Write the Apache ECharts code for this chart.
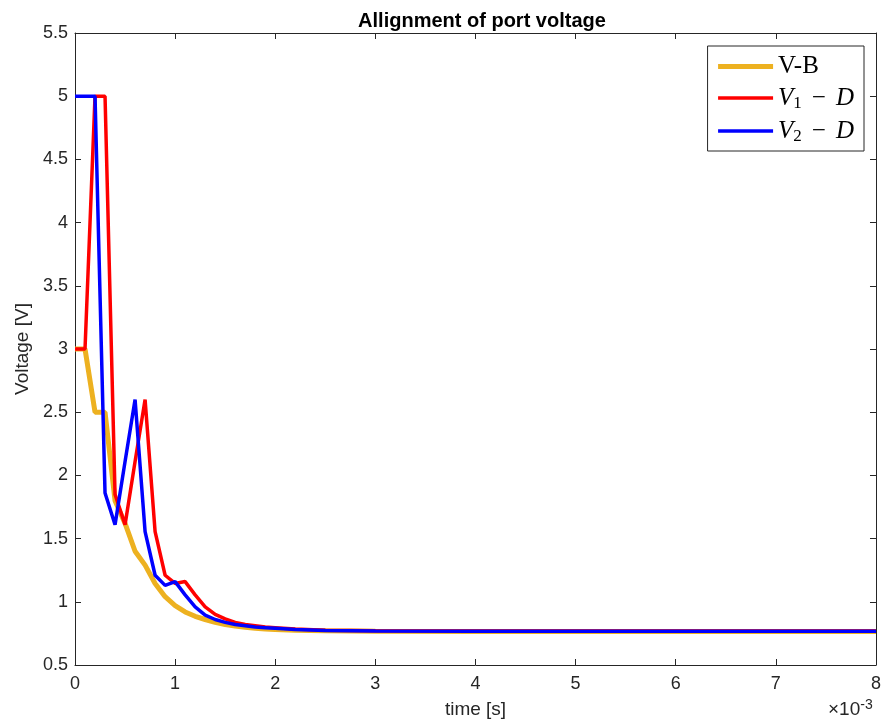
<!DOCTYPE html>
<html>
<head>
<meta charset="utf-8">
<script src="https://cdn.jsdelivr.net/npm/echarts@6/dist/echarts.min.js"></script>
<style>html,body{margin:0;padding:0;background:#fff}#c{width:884px;height:724px}</style>
</head>
<body>
<div id="c"></div>
<script>
// time in units of 1e-3 s
const tVB = [0,0.1,0.2,0.3,0.4,0.5,0.6,0.7,0.8,0.9,1.0,1.1,1.2,1.3,1.4,1.5,1.6,1.7,1.8,1.9,2.0,2.2,2.5,3,4,5,6,7,8];
const vVB = [3,3,2.5,2.5,1.8,1.62,1.4,1.29,1.145,1.04,0.97,0.92,0.885,0.86,0.837,0.82,0.808,0.798,0.79,0.785,0.78,0.775,0.77,0.767,0.766,0.766,0.766,0.766,0.766];

const tV1 = [0,0.1,0.2,0.3,0.4,0.5,0.6,0.7,0.8,0.9,1.0,1.1,1.2,1.3,1.4,1.5,1.6,1.7,1.8,1.9,2.0,2.2,2.5,3,4,5,6,7,8];
const vV1 = [3,3,5,5,1.85,1.61,2.11,2.6,1.555,1.21,1.145,1.16,1.055,0.96,0.9,0.865,0.837,0.82,0.81,0.8,0.795,0.785,0.775,0.77,0.768,0.768,0.768,0.768,0.768];

const tV2 = [0,0.1,0.2,0.3,0.4,0.5,0.6,0.7,0.8,0.9,1.0,1.1,1.2,1.3,1.4,1.5,1.6,1.7,1.8,1.9,2.0,2.2,2.5,3,4,5,6,7,8];
const vV2 = [5,5,5,1.86,1.61,2.11,2.6,1.555,1.21,1.13,1.16,1.055,0.96,0.895,0.86,0.837,0.82,0.81,0.8,0.795,0.79,0.78,0.772,0.768,0.767,0.767,0.767,0.767,0.767];

const seriesNames = ['V-B','V1-D','V2-D'];
const xTicks = {min:0, max:8, interval:1};
const yTicks = {min:0.5, max:5.5, interval:0.5};

const zip = (t,v) => t.map((x,i)=>[x,v[i]]);
const axisColor = '#262626';
const sans = '"Liberation Sans", Arial, Helvetica, sans-serif';
const serif = '"Liberation Serif", "DejaVu Serif", serif';
const colors = ['#EDB120','#FF0000','#0000FF'];
const widths = [5,3.5,3.5];

const chart = echarts.init(document.getElementById('c'), null, {renderer:'canvas'});
const baseX = {
  type:'value', min:xTicks.min, max:xTicks.max, interval:xTicks.interval,
  axisLine:{show:true, onZero:false, lineStyle:{color:axisColor, width:1}},
  axisTick:{show:true, inside:true, length:6, lineStyle:{color:axisColor}},
  splitLine:{show:false}
};
const baseY = {
  type:'value', min:yTicks.min, max:yTicks.max, interval:yTicks.interval,
  axisLine:{show:true, onZero:false, lineStyle:{color:axisColor, width:1}},
  axisTick:{show:true, inside:true, length:6, lineStyle:{color:axisColor}},
  splitLine:{show:false}
};
chart.setOption({
  animation:false,
  backgroundColor:'#fff',
  title:{text:'Allignment of port voltage', left:477, textAlign:'center', top:6,
    textStyle:{fontFamily:sans, fontWeight:'bold', fontSize:20, color:'#000'}},
  grid:{left:75, right:6, top:33, bottom:57, containLabel:false},
  xAxis:[
    Object.assign({}, baseX, {position:'bottom',
      axisLabel:{show:true, margin:10, fontFamily:sans, fontSize:18, color:axisColor},
      name:'time [s]', nameLocation:'middle', nameGap:35,
      nameTextStyle:{fontFamily:sans, fontSize:19, color:axisColor}}),
    Object.assign({}, baseX, {position:'top', axisLabel:{show:false}})
  ],
  yAxis:[
    Object.assign({}, baseY, {position:'left',
      axisLabel:{show:true, margin:7, fontFamily:sans, fontSize:18, color:axisColor},
      name:'Voltage [V]', nameLocation:'middle', nameGap:40,
      nameTextStyle:{fontFamily:sans, fontSize:19, color:axisColor}}),
    Object.assign({}, baseY, {position:'right', axisLabel:{show:false}})
  ],
  legend:{
    orient:'vertical', right:20, top:46,
    backgroundColor:'#fff', borderColor:axisColor, borderWidth:1, borderRadius:0,
    padding:[8,10,6,8], itemGap:6, itemWidth:55, itemHeight:14,
    itemStyle:{opacity:0},
    data:seriesNames.map((n,i)=>({name:n, lineStyle:{color:colors[i], width:widths[i]}, itemStyle:{opacity:0}})),
    formatter:function(n){
      if(n==='V-B') return '{r|V-B}';
      if(n==='V1-D') return '{i|V}{s|1}{m|−}{i|D}';
      return '{i|V}{s|2}{m|−}{i|D}';
    },
    textStyle:{
      rich:{
        r:{fontFamily:serif, fontSize:25, color:'#000', lineHeight:28},
        m:{fontFamily:serif, fontSize:25, color:'#000', lineHeight:28, padding:[0,10,0,10]},
        i:{fontFamily:serif, fontSize:25, fontStyle:'italic', color:'#000', lineHeight:28},
        s:{fontFamily:serif, fontSize:17, color:'#000', verticalAlign:'bottom', padding:[10,0,0,0], lineHeight:28}
      }
    }
  },
  graphic:[{
    type:'text', left:828, top:698,
    style:{text:'{a|×10}{b|-3}', rich:{
      a:{fontFamily:sans, fontSize:19, fill:axisColor},
      b:{fontFamily:sans, fontSize:14, fill:axisColor, verticalAlign:'top', padding:[0,0,10,0]}
    }}
  }],
  series:seriesNames.map((n,i)=>({
    name:n, type:'line', data:[zip(tVB,vVB),zip(tV1,vV1),zip(tV2,vV2)][i],
    showSymbol:false, symbol:'none',
    lineStyle:{color:colors[i], width:widths[i]}, itemStyle:{color:colors[i]}, z:2+i
  }))
});
</script>
</body>
</html>
